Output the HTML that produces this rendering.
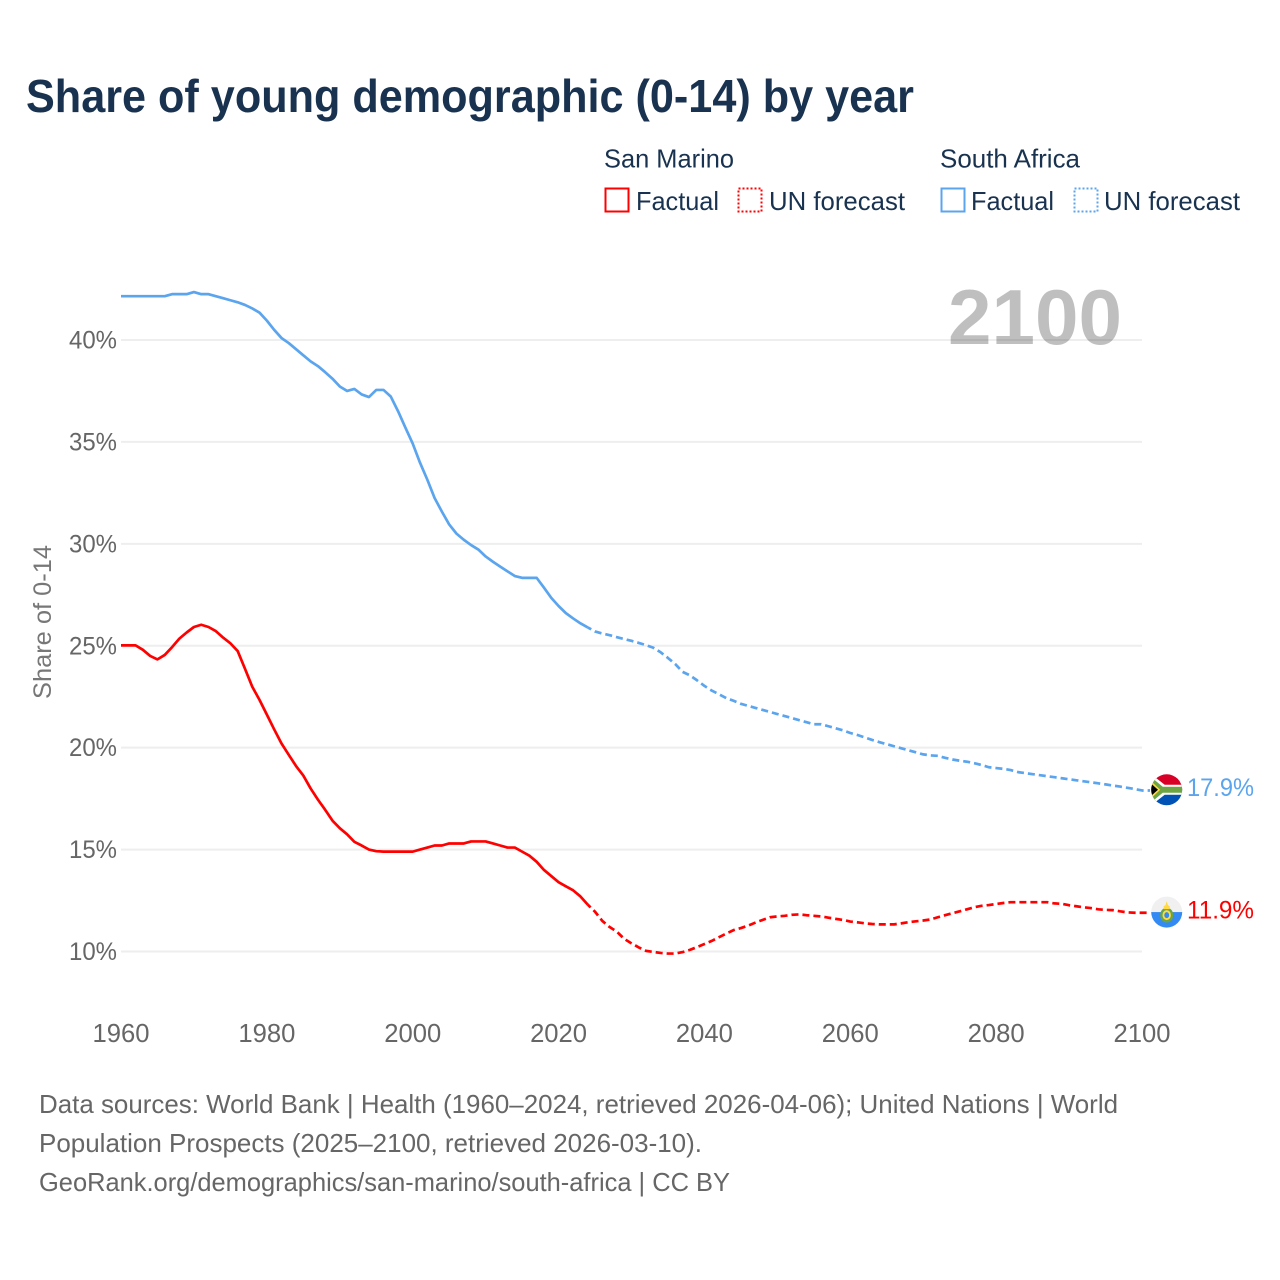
<!DOCTYPE html>
<html lang="en">
<head>
<meta charset="utf-8">
<title>Share of young demographic (0-14) by year</title>
<style>
html,body{margin:0;padding:0;background:#fff}
svg{display:block}
text{font-family:"Liberation Sans",sans-serif}
</style>
</head>
<body>
<svg id="chart" width="1280" height="1280" viewBox="0 0 1280 1280" xmlns="http://www.w3.org/2000/svg">
<defs>
<clipPath id="clip-sa"><circle cx="0" cy="0" r="15.500"/></clipPath>
<clipPath id="clip-sm"><circle cx="0" cy="0" r="15.500"/></clipPath>
</defs>
<rect width="1280" height="1280" fill="#fff"/>
<text x="26" y="112" font-size="46" font-weight="700" fill="#18324f" textLength="888" lengthAdjust="spacingAndGlyphs">Share of young demographic (0-14) by year</text>

<g font-size="26" fill="#18324f">
<text x="604" y="167.500" textLength="130" lengthAdjust="spacingAndGlyphs">San Marino</text>
<text x="940" y="167.500" textLength="140" lengthAdjust="spacingAndGlyphs">South Africa</text>
<rect x="605.500" y="188.500" width="23" height="23" fill="none" stroke="#ff0000" stroke-width="2"/>
<text x="636" y="210" textLength="83" lengthAdjust="spacingAndGlyphs">Factual</text>
<rect x="738.500" y="188.500" width="23" height="23" fill="none" stroke="#ff0000" stroke-width="2" stroke-dasharray="2 2"/>
<text x="769" y="210" textLength="136" lengthAdjust="spacingAndGlyphs">UN forecast</text>
<rect x="941.500" y="188.500" width="23" height="23" fill="none" stroke="#5ba4ee" stroke-width="2"/>
<text x="971" y="210" textLength="83" lengthAdjust="spacingAndGlyphs">Factual</text>
<rect x="1074.500" y="188.500" width="23" height="23" fill="none" stroke="#5ba4ee" stroke-width="2" stroke-dasharray="2 2"/>
<text x="1104" y="210" textLength="136" lengthAdjust="spacingAndGlyphs">UN forecast</text>
</g>

<g id="grid"></g>
<g id="yticks"></g>
<g id="xticks"></g>
<text transform="translate(51,622) rotate(-90)" text-anchor="middle" font-size="25" fill="#777" textLength="154" lengthAdjust="spacingAndGlyphs">Share of 0-14</text>
<text x="948" y="344" font-size="78" font-weight="700" fill="#000" fill-opacity="0.25" textLength="174" lengthAdjust="spacingAndGlyphs">2100</text>

<g id="series"></g>

<g id="flag-sa">
<g clip-path="url(#clip-sa)">
<rect x="-16" y="-16" width="32" height="16" fill="#d80027"/>
<rect x="-16" y="0" width="32" height="16" fill="#0052b4"/>
<path d="M-16,-16 L-2,-5 H16 V5 H-2 L-16,16 Z" fill="#fff"/>
<path d="M-16,-13 L-4,-3 H16 V3 H-4 L-16,13 Z" fill="#6da544"/>
<path d="M-16,-9 L-6.500,0 L-16,9 Z" fill="#ffda44"/>
<path d="M-16,-6.500 L-8.700,0 L-16,6.500 Z" fill="#000"/>
</g>
</g>
<g id="flag-sm">
<g clip-path="url(#clip-sm)">
<rect x="-16" y="-16" width="32" height="16" fill="#f0f0f0"/>
<rect x="-16" y="0" width="32" height="16" fill="#338af3"/>
<ellipse cx="0" cy="3" rx="6.500" ry="7.500" fill="#6da544"/>
<ellipse cx="0" cy="3" rx="4.200" ry="5" fill="#ffda44"/>
<ellipse cx="0" cy="3" rx="2.400" ry="3" fill="#338af3"/>
<path d="M-3,-3 L-3,-6 L-1.200,-7 L0,-11 L1.200,-7 L3,-6 L3,-3 Z" fill="#ffda44"/>
</g>
</g>
<text id="label-sa" x="1187" font-size="25" fill="#5ba4ee" textLength="67" lengthAdjust="spacingAndGlyphs"></text>
<text id="label-sm" x="1187" font-size="25" fill="#ff0000" textLength="67" lengthAdjust="spacingAndGlyphs"></text>

<g font-size="26" fill="#666">
<text x="39" y="1113" textLength="1079" lengthAdjust="spacingAndGlyphs">Data sources: World Bank | Health (1960–2024, retrieved 2026-04-06); United Nations | World</text>
<text x="39" y="1152" textLength="663" lengthAdjust="spacingAndGlyphs">Population Prospects (2025–2100, retrieved 2026-03-10).</text>
<text x="39" y="1191" textLength="691" lengthAdjust="spacingAndGlyphs">GeoRank.org/demographics/san-marino/south-africa | CC BY</text>
</g>
</svg>

<script>
const factualStartYear = 1960;
const forecastStartYear = 2024;
const yTickValues = [10, 15, 20, 25, 30, 35, 40];
const xTickValues = [1960, 1980, 2000, 2020, 2040, 2060, 2080, 2100];

const southAfricaFactual = [42.15,42.15,42.15,42.15,42.15,42.15,42.15,42.25,42.25,42.25,42.35,42.25,42.25,42.15,42.05,41.95,41.85,41.72,41.55,41.34,40.95,40.5,40.1,39.85,39.55,39.25,38.95,38.72,38.42,38.1,37.72,37.5,37.6,37.33,37.2,37.55,37.55,37.22,36.5,35.7,34.92,33.98,33.15,32.25,31.58,30.95,30.5,30.2,29.94,29.72,29.38,29.12,28.88,28.65,28.42,28.33,28.33,28.33,27.85,27.35,26.95,26.6,26.34,26.1,25.9];
const southAfricaForecast = [25.9,25.7,25.6,25.52,25.42,25.33,25.24,25.14,25.03,24.9,24.68,24.4,24.1,23.72,23.55,23.3,23.03,22.8,22.62,22.43,22.3,22.15,22.05,21.95,21.85,21.75,21.65,21.55,21.45,21.35,21.25,21.15,21.15,21.05,20.95,20.85,20.72,20.62,20.5,20.38,20.27,20.17,20.07,19.97,19.87,19.77,19.67,19.62,19.6,19.5,19.42,19.36,19.31,19.24,19.15,19.04,19.0,18.96,18.9,18.8,18.75,18.7,18.65,18.6,18.55,18.5,18.45,18.4,18.35,18.3,18.25,18.2,18.14,18.09,18.03,17.97,17.9];
const sanMarinoFactual = [25.02,25.02,25.02,24.8,24.5,24.33,24.55,24.93,25.35,25.65,25.92,26.03,25.92,25.72,25.4,25.12,24.74,23.87,22.99,22.34,21.62,20.9,20.21,19.65,19.1,18.63,18.0,17.45,16.95,16.42,16.05,15.75,15.38,15.2,15.0,14.92,14.9,14.9,14.9,14.9,14.9,15.0,15.1,15.2,15.2,15.3,15.3,15.3,15.4,15.4,15.4,15.3,15.2,15.1,15.1,14.9,14.7,14.4,14.0,13.7,13.4,13.2,13.0,12.7,12.3];
const sanMarinoForecast = [12.3,11.95,11.5,11.2,10.97,10.62,10.4,10.2,10.03,9.98,9.93,9.9,9.9,9.97,10.08,10.22,10.37,10.52,10.7,10.88,11.05,11.15,11.27,11.42,11.55,11.68,11.72,11.75,11.8,11.82,11.78,11.75,11.72,11.66,11.6,11.55,11.47,11.43,11.38,11.35,11.33,11.33,11.33,11.38,11.44,11.48,11.52,11.57,11.68,11.78,11.88,11.97,12.07,12.17,12.24,12.28,12.33,12.38,12.42,12.42,12.42,12.42,12.42,12.42,12.36,12.34,12.27,12.22,12.17,12.13,12.07,12.04,12.03,11.97,11.92,11.9,11.9];

const SVG_NS = 'http://www.w3.org/2000/svg';
function xScale(year) { return 121 + (year - 1960) * (1021 / 140); }
function yScale(value) { return 951.5 - (value - 10) * (611.5 / 30); }

function make(tag, parent) {
  const el = document.createElementNS(SVG_NS, tag);
  document.getElementById(parent).appendChild(el);
  return el;
}

yTickValues.forEach(function (v) {
  const line = make('line', 'grid');
  
  
  line.setAttribute('x1', xScale(1960));
  line.setAttribute('x2', xScale(2100));
  line.setAttribute('y1', yScale(v));
  line.setAttribute('y2', yScale(v));
  line.setAttribute('stroke', '#eeeeee');
  line.setAttribute('stroke-width', '2');

  const label = make('text', 'yticks');
  
  
  label.setAttribute('x', 117);
  label.setAttribute('y', yScale(v) + 8.5);
  label.setAttribute('text-anchor', 'end');
  label.setAttribute('font-size', '25');
  label.setAttribute('fill', '#666');
  label.setAttribute('textLength', '48');
  label.setAttribute('lengthAdjust', 'spacingAndGlyphs');
  label.textContent = v + '%';
});

xTickValues.forEach(function (y) {
  const label = make('text', 'xticks');
  
  
  label.setAttribute('x', xScale(y));
  label.setAttribute('y', 1042);
  label.setAttribute('text-anchor', 'middle');
  label.setAttribute('font-size', '25.500');
  label.setAttribute('fill', '#666');
  label.setAttribute('textLength', '57');
  label.setAttribute('lengthAdjust', 'spacingAndGlyphs');
  label.textContent = y;
});

function pathFrom(values, startYear, extended) {
  let d = values.map(function (v, i) {
    return (i ? 'L' : 'M') + xScale(startYear + i).toFixed(2) + ',' + yScale(v).toFixed(2);
  }).join(' ');
  if (extended) {
    d += ' H' + (xScale(startYear + values.length - 1) + 8).toFixed(2);
  }
  return d;
}

function drawLine(values, startYear, color, dashed, name) {
  const p = make('path', 'series');
  
  
  p.setAttribute('d', pathFrom(values, startYear, dashed));
  p.setAttribute('fill', 'none');
  p.setAttribute('stroke', color);
  p.setAttribute('stroke-width', '2.700');
  p.setAttribute('stroke-linejoin', 'round');
  if (dashed) {
    p.setAttribute('stroke-dasharray', '7 4');
    p.setAttribute('stroke-dashoffset', '3');
  }
}

drawLine(southAfricaFactual, factualStartYear, '#5ba4ee', false, 'south-africa-factual-line');
drawLine(southAfricaForecast, forecastStartYear, '#5ba4ee', true, 'south-africa-forecast-line');
drawLine(sanMarinoFactual, factualStartYear, '#ff0000', false, 'san-marino-factual-line');
drawLine(sanMarinoForecast, forecastStartYear, '#ff0000', true, 'san-marino-forecast-line');

const saLast = southAfricaForecast[southAfricaForecast.length - 1];
const smLast = sanMarinoForecast[sanMarinoForecast.length - 1];
document.getElementById('flag-sa').setAttribute('transform', 'translate(1166.7,' + (yScale(saLast) - 0.7) + ')');
document.getElementById('flag-sm').setAttribute('transform', 'translate(1166.7,' + (yScale(smLast) - 0.7) + ')');
const labelSa = document.getElementById('label-sa');
labelSa.setAttribute('y', yScale(saLast) + 5.5);
labelSa.textContent = saLast.toFixed(1) + '%';
const labelSm = document.getElementById('label-sm');
labelSm.setAttribute('y', yScale(smLast) + 5.5);
labelSm.textContent = smLast.toFixed(1) + '%';
</script>
</body>
</html>
